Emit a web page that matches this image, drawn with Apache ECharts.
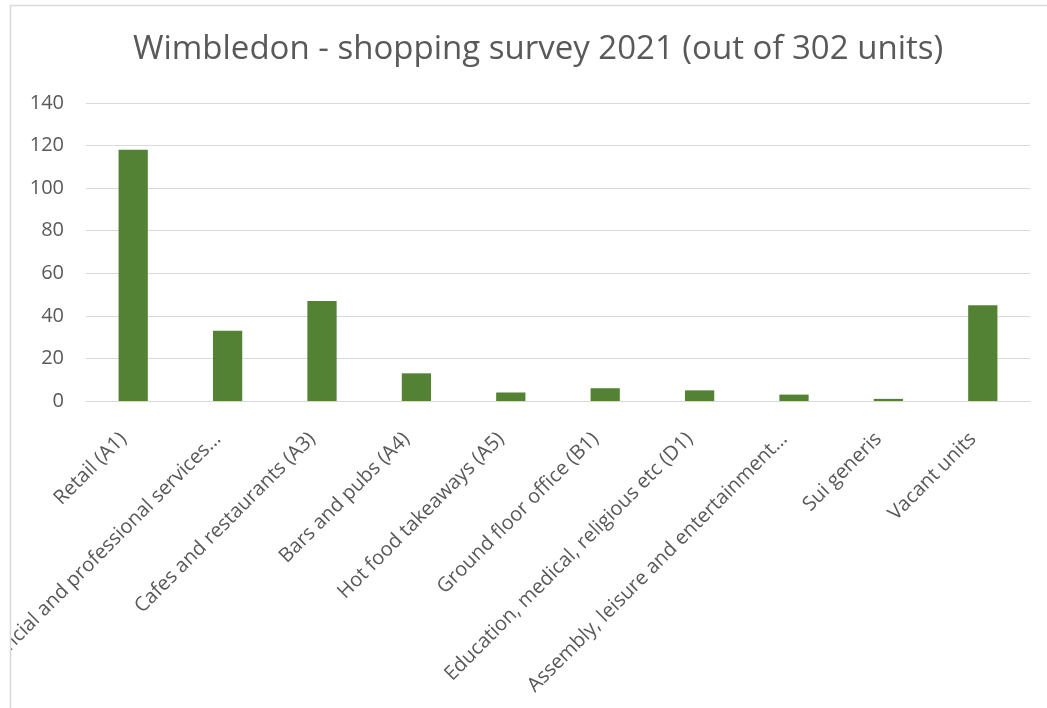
<!DOCTYPE html>
<html>
<head>
<meta charset="utf-8">
<script src="https://cdn.jsdelivr.net/npm/echarts@6/dist/echarts.min.js"></script>
<style>html,body{margin:0;padding:0;background:#fff}#c{width:1047px;height:708px}</style>
</head>
<body>
<div id="c"></div>
<script>
const titleText = 'Wimbledon - shopping survey 2021 (out of 302 units)';
const categories = ['Retail (A1)', 'Financial and professional services\u2026', 'Cafes and restaurants (A3)', 'Bars and pubs (A4)', 'Hot food takeaways (A5)', 'Ground floor office (B1)', 'Education, medical, religious etc (D1)', 'Assembly, leisure and entertainment\u2026', 'Sui generis', 'Vacant units'];
const values = [118, 33, 47, 13, 4, 6, 5, 3, 1, 45];
const yTicks = [0, 20, 40, 60, 80, 100, 120, 140];

const FONT = '"Open Sans", "Noto Sans", sans-serif';
const chart = echarts.init(document.getElementById('c'), null, {renderer: 'canvas'});
chart.setOption({
  animation: false,
  backgroundColor: '#ffffff',
  title: {
    text: titleText, left: 128, top: 28,
    textStyle: {fontFamily: FONT, fontSize: 33, fontWeight: 'normal', color: '#595959'}
  },
  grid: {left: 86, right: 17, top: 103, bottom: 307, containLabel: false, outerBoundsMode: 'none'},
  xAxis: {
    type: 'category', data: categories,
    axisLine: {lineStyle: {color: '#d9d9d9', width: 1}},
    axisTick: {show: false},
    axisLabel: {rotate: 45, interval: 0, fontFamily: FONT, fontSize: 20, color: '#595959', margin: 25, padding: [0, 14, 0, 0]}
  },
  yAxis: {
    type: 'value', min: yTicks[0], max: yTicks[yTicks.length - 1], interval: 20,
    axisLine: {show: false}, axisTick: {show: false},
    splitLine: {lineStyle: {color: '#d9d9d9', width: 1}},
    axisLabel: {fontFamily: FONT, fontSize: 20, color: '#595959', margin: 22}
  },
  series: [{
    type: 'bar', data: values, barWidth: '31%',
    itemStyle: {color: '#548235'}
  }],
  graphic: [
    {type: 'rect', z: 100, shape: {x: 0, y: 0, width: 10, height: 708}, style: {fill: '#ffffff'}},
    {type: 'rect', z: 101, shape: {x: 10.5, y: 5.5, width: 1100, height: 800}, style: {fill: 'none', stroke: '#d9d9d9', lineWidth: 1.5}}
  ]
});
</script>
</body>
</html>
